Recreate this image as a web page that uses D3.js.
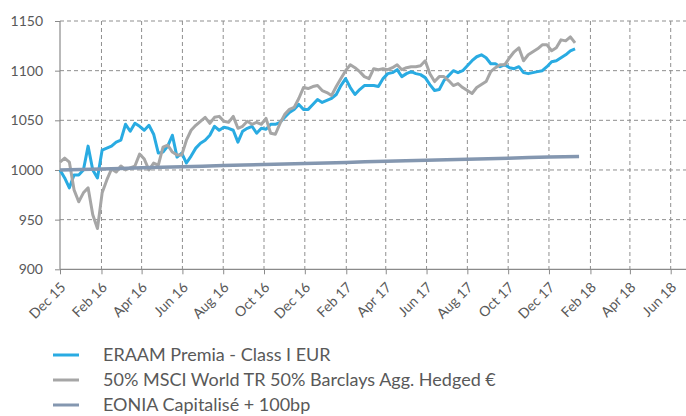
<!DOCTYPE html>
<html><head><meta charset="utf-8">
<script src="https://cdn.jsdelivr.net/npm/d3@7"></script>
<style>
html,body{margin:0;padding:0;background:#fff;}
svg{display:block;font-family:Lato, "Open Sans", sans-serif;}
</style>
</head><body>
<svg id="chart" width="686" height="416"></svg>
<script>
// ---- data ----
const seriesNames = ["ERAAM Premia - Class I EUR", "50% MSCI World TR 50% Barclays Agg. Hedged €", "EONIA Capitalisé + 100bp"];
const seriesColors = ["#29abe2", "#a6a6a6", "#8497b0"];
const weeklyStart = "2015-12-01"; // weekly observations, one value per week
const eraam = [1000,992,982,995,995,1000,1024,1000,992,1020,1022,1024,1028,1030,1046,1039,1047,1044,1040,1045,
1036,1017,1018,1024,1035,1013,1017,1007,1014,1022,1027,1030,1035,1044,1040,1043,1042,1040,1028,1039,
1042,1044,1037,1042,1041,1046,1046,1048,1053,1058,1061,1066,1061,1061,1066,1071,1068,1070,1072,1076,
1085,1092,1083,1076,1081,1085,1085,1085,1084,1092,1097,1098,1101,1094,1097,1099,1097,1096,1093,1086,
1080,1081,1090,1095,1100,1098,1100,1105,1110,1114,1116,1113,1107,1107,1104,1106,1103,1102,1104,1098,
1097,1098,1099,1100,1104,1109,1110,1113,1116,1120,1122];
const benchmark = [1008,1012,1008,980,968,977,982,955,941,977,990,1001,998,1004,1000,1002,1004,1016,1011,1000,
1007,1005,1023,1025,1018,1015,1015,1030,1040,1045,1049,1053,1047,1053,1054,1049,1048,1054,1042,1044,
1049,1046,1048,1046,1052,1037,1036,1047,1056,1061,1063,1072,1083,1082,1084,1085,1080,1078,1075,1084,
1092,1100,1106,1103,1099,1094,1092,1102,1101,1102,1101,1103,1106,1101,1103,1104,1104,1105,1110,1097,
1089,1094,1094,1090,1085,1087,1083,1080,1077,1083,1086,1089,1099,1103,1106,1106,1113,1119,1123,1110,
1116,1119,1122,1126,1126,1120,1123,1131,1130,1134,1128];
const eoniaDates = ["2015-12-01","2016-01-01","2016-02-01","2016-03-01","2016-04-01","2016-05-01","2016-06-01",
"2016-07-01","2016-08-01","2016-09-01","2016-10-01","2016-11-01","2016-12-01","2017-01-01","2017-02-01",
"2017-03-01","2017-04-01","2017-05-01","2017-06-01","2017-07-01","2017-08-01","2017-09-01","2017-10-01",
"2017-11-01","2017-12-01","2018-01-15"];
const eonia = [1000.0,1000.6,1001.1,1001.6,1002.2,1002.7,1003.3,1003.8,1004.4,1004.9,1005.4,1006.0,1006.5,
1007.1,1007.6,1008.2,1008.7,1009.2,1009.8,1010.3,1010.9,1011.4,1011.9,1012.5,1013.0,1013.6];
const xTickDates = ["2015-12-01","2016-02-01","2016-04-01","2016-06-01","2016-08-01","2016-10-01","2016-12-01",
"2017-02-01","2017-04-01","2017-06-01","2017-08-01","2017-10-01","2017-12-01","2018-02-01","2018-04-01","2018-06-01"];
const yTicks = [900, 950, 1000, 1050, 1100, 1150];

// ---- layout ----
const parse = d3.timeParse("%Y-%m-%d");
const svg = d3.select("#chart");
const pLeft = 60, pRight = 670.7, pTop = 21, pBottom = 269.3, pEdge = 686;
const x = d3.scaleTime().domain([parse(xTickDates[0]), parse(xTickDates[xTickDates.length-1])]).range([pLeft, pRight]);
const y = d3.scaleLinear().domain([900, 1150]).range([pBottom, pTop]);
const ticks = xTickDates.map(parse);
const start = parse(weeklyStart);
const weekly = (vals) => vals.map((v, i) => ({d: d3.timeDay.offset(start, 7 * i), v}));

const gridColor = "#8f8f8f", axisColor = "#8a8a8a", textColor = "#595959";

// gridlines
svg.append("g").selectAll("line").data(yTicks.slice(1)).join("line")
  .attr("x1", pLeft).attr("x2", pEdge).attr("y1", d => y(d)).attr("y2", d => y(d))
  .attr("stroke", gridColor).attr("stroke-width", 1).attr("stroke-dasharray", "4,3");
svg.append("g").selectAll("line").data(ticks.slice(1)).join("line")
  .attr("x1", d => x(d)).attr("x2", d => x(d)).attr("y1", pTop).attr("y2", pBottom)
  .attr("stroke", gridColor).attr("stroke-width", 1).attr("stroke-dasharray", "4,3");

// axes
const yAxis = svg.append("g").attr("transform", `translate(${pLeft},0)`)
  .call(d3.axisLeft(y).tickValues(yTicks).tickSize(5).tickPadding(12).tickFormat(d3.format("d")));
yAxis.select(".domain").remove();
yAxis.selectAll(".tick line").attr("stroke", axisColor);
yAxis.selectAll(".tick text").attr("fill", textColor).style("font-size", "14px").style("font-family", "Lato");

const xAxis = svg.append("g").attr("transform", `translate(0,${pBottom})`)
  .call(d3.axisBottom(x).tickValues(ticks).tickSize(5).tickFormat(d3.timeFormat("%b %y")));
xAxis.select(".domain").remove();
xAxis.selectAll(".tick line").attr("stroke", axisColor);
xAxis.selectAll(".tick text").attr("fill", textColor).style("font-size", "14px").style("font-family", "Lato")
  .attr("text-anchor", "end").attr("x", 0).attr("y", 0).attr("dy", 0)
  .attr("transform", "translate(6,19) rotate(-45)");

svg.append("line").attr("x1", pLeft).attr("x2", pEdge).attr("y1", pBottom).attr("y2", pBottom)
  .attr("stroke", axisColor).attr("stroke-width", 1.2);
svg.append("line").attr("x1", pLeft).attr("x2", pLeft).attr("y1", pTop).attr("y2", pBottom)
  .attr("stroke", axisColor).attr("stroke-width", 1.2);

// lines
const line = d3.line().x(d => x(d.d)).y(d => y(d.v));
const data = [
  weekly(eraam),
  weekly(benchmark),
  eoniaDates.map((s, i) => ({d: parse(s), v: eonia[i]}))
];
const widths = [3, 3, 3.5];
data.forEach((s, i) => {
  svg.append("path").datum(s).attr("d", line).attr("fill", "none")
    .attr("stroke", seriesColors[i]).attr("stroke-width", widths[i]).attr("stroke-linejoin", "round");
});

// legend
const legY = [355, 380, 405];
const leg = svg.append("g").selectAll("g").data(seriesNames).join("g")
  .attr("transform", (d, i) => `translate(0,${legY[i]})`);
leg.append("line").attr("x1", 53).attr("x2", 79).attr("y1", 0).attr("y2", 0)
  .attr("stroke", (d, i) => seriesColors[i]).attr("stroke-width", 3);
leg.append("text").attr("x", 103).attr("y", 0).attr("dy", "0.36em").text(d => d)
  .attr("fill", textColor).style("font-size", "18px").style("font-family", "Lato");
</script>
</body></html>
